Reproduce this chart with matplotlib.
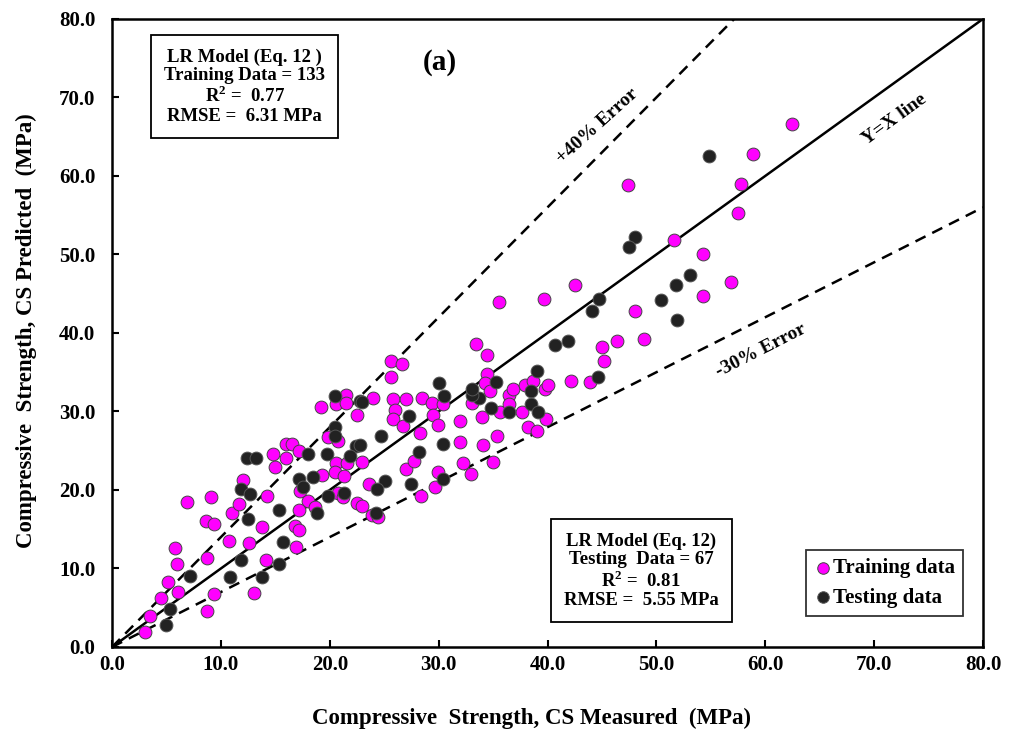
"""Measured vs predicted compressive strength, LR model (panel a)."""
import numpy as np
import matplotlib
matplotlib.use("Agg")
import matplotlib.pyplot as plt

plt.rcParams.update({"font.family": ["Liberation Serif", "DejaVu Serif"],
                     "font.weight": "bold", "mathtext.fontset": "custom",
                     "mathtext.rm": "Liberation Serif", "mathtext.bf": "Liberation Serif:bold"})

# training data (measured, predicted), MPa
train_meas = [3.0, 3.5, 4.5, 6.1, 5.1, 6.0, 5.8, 8.7, 9.4, 8.7, 6.9, 9.1, 8.6, 9.4, 10.7,
              13.0, 12.6, 14.1, 13.8, 11.0, 11.7, 12.0, 14.2, 14.8, 15.0, 16.0, 16.5, 16.0,
              17.2, 17.3, 18.0, 17.2, 16.8, 17.2, 16.9, 19.2, 19.8, 19.3, 18.6,
              33.4, 34.4, 25.6, 26.6, 25.6, 34.4, 34.3, 34.7, 20.6, 21.5, 21.5, 22.5, 24.0,
              25.8, 27.0, 26.0, 25.8, 26.7, 28.5, 29.4, 30.4, 29.5, 29.9, 32.0, 33.1, 34.0,
              35.6, 36.5, 36.8, 36.5, 37.9, 38.7, 37.7, 39.8, 40.0, 39.9, 38.2, 39.0, 42.2,
              28.3, 32.0, 34.1, 35.4, 32.2, 33.0, 35.0, 29.9, 29.7, 28.4, 27.0, 27.7, 23.6,
              23.0, 22.5, 23.0, 23.9, 24.4, 20.6, 20.5, 21.3, 21.6, 20.8, 21.2, 20.8,
              51.6, 54.3, 56.9, 54.3, 48.0, 42.5, 39.7, 35.5, 45.0, 46.4, 48.9,
              62.5, 58.9, 57.8, 57.5, 47.4, 45.2, 43.9]
train_pred = [1.9, 4.0, 6.2, 7.0, 8.3, 10.6, 12.6, 4.6, 6.7, 11.3, 18.5, 19.1, 16.1, 15.7, 13.5,
              6.9, 13.2, 11.1, 15.3, 17.1, 18.2, 21.3, 19.2, 24.6, 22.9, 25.9, 25.9, 24.1,
              25.0, 19.9, 18.6, 17.4, 15.4, 14.9, 12.7, 30.6, 26.7, 21.9, 17.8,
              38.6, 37.2, 36.4, 36.0, 34.4, 34.8, 33.6, 32.6, 31.0, 32.1, 31.1, 29.6, 31.7,
              31.6, 31.6, 30.2, 29.0, 28.2, 31.7, 31.1, 31.0, 29.6, 28.3, 28.8, 31.1, 29.3,
              29.9, 32.1, 32.9, 31.0, 33.4, 33.9, 29.9, 32.9, 33.4, 29.0, 28.0, 27.5, 33.9,
              27.3, 26.1, 25.7, 26.9, 23.4, 22.0, 23.6, 22.3, 20.4, 19.2, 22.7, 23.7, 20.8,
              23.6, 18.3, 18.0, 16.8, 16.6, 23.4, 22.3, 21.8, 23.4, 19.6, 19.1, 26.2,
              51.8, 50.1, 46.5, 44.7, 42.8, 46.1, 44.3, 43.9, 38.2, 39.0, 39.2,
              66.6, 62.8, 59.0, 55.3, 58.8, 36.4, 33.8]

# testing data (measured, predicted), MPa
test_meas = [5.0, 5.3, 7.2, 10.8, 11.8, 13.8, 15.3, 15.7, 15.3, 12.5, 11.8, 12.7, 12.4, 13.2,
             18.0, 17.2, 17.5, 18.5, 18.8, 19.8, 19.7,
             40.7, 41.9, 39.0, 38.5, 38.5, 39.1, 36.5, 34.8, 35.3, 33.7, 33.1, 33.1, 30.0, 30.5,
             27.3, 24.7, 30.4, 28.2, 30.4, 27.5, 25.1, 24.3, 24.2, 20.5, 20.5, 20.5, 22.8, 23.0,
             22.4, 22.8, 21.9, 21.3,
             48.0, 47.5, 53.1, 51.8, 50.4, 51.9, 44.7, 44.1, 54.8, 44.6]
test_pred = [2.8, 4.9, 9.0, 8.9, 11.1, 8.9, 10.6, 13.4, 17.5, 16.3, 20.1, 19.5, 24.1, 24.1,
             24.6, 21.4, 20.4, 21.6, 17.1, 19.2, 24.6,
             38.5, 39.0, 35.2, 32.6, 31.0, 29.9, 29.9, 30.4, 33.8, 31.7, 32.1, 32.9, 33.6, 32.0,
             29.4, 26.9, 25.9, 24.8, 21.4, 20.8, 21.2, 20.1, 17.1, 32.0, 28.0, 26.9, 31.3, 31.2,
             25.6, 25.7, 24.3, 19.6,
             52.2, 51.0, 47.4, 46.1, 44.2, 41.7, 44.3, 42.8, 62.5, 34.4]

line_x = [0, 80]

fig = plt.figure(figsize=(10.14, 7.29), dpi=100)
ax = fig.add_axes([0.1105, 0.1125, 0.8589, 0.8615])

ax.plot(line_x, line_x, color="black", lw=1.8, zorder=2)
ax.plot(line_x, [v * 1.4 for v in line_x], color="black", lw=1.8, ls=(0, (4.5, 3)), zorder=2)
ax.plot(line_x, [v * 0.7 for v in line_x], color="black", lw=1.8, ls=(0, (4.5, 3)), zorder=2)

ax.scatter(train_meas, train_pred, s=85, color="#ff00ff", edgecolor="#444444", lw=0.7,
           label="Training data", zorder=3)
ax.scatter(test_meas, test_pred, s=85, color="#222222", edgecolor="#555555", lw=0.7,
           label="Testing data", zorder=4)

ax.set_xlim(0, 80); ax.set_ylim(0, 80)
ticks = np.arange(0, 81, 10)
ax.set_xticks(ticks); ax.set_yticks(ticks)
ax.set_xticklabels([f"{t:.1f}" for t in ticks]); ax.set_yticklabels([f"{t:.1f}" for t in ticks])
ax.tick_params(direction="in", length=5, width=1.5, labelsize=15)
ax.tick_params(axis="x", pad=6)
ax.tick_params(axis="y", pad=12)
for s in ax.spines.values():
    s.set_linewidth(1.8)
ax.set_xlabel("Compressive  Strength, CS Measured  (MPa)", fontsize=16.5, fontweight="bold")
ax.xaxis.set_label_coords(0.482, -0.097)
ax.set_ylabel("Compressive  Strength, CS Predicted  (MPa)", fontsize=16.5, fontweight="bold")
ax.yaxis.set_label_coords(-0.086, 0.503)

ax.text(71.9, 67.2, "Y=X line", rotation=36, fontsize=14, ha="center", va="center")
ax.text(44.6, 66.4, "+40% Error", rotation=42, fontsize=14, ha="center", va="center")
ax.text(59.6, 37.8, "-30% Error", rotation=27, fontsize=14, ha="center", va="center")
ax.text(30.1, 74.5, "(a)", fontsize=21, ha="center", va="center")

box = dict(boxstyle="square,pad=0.7", fc="white", ec="black", lw=1.3)
ax.text(12.2, 71.4, "LR Model (Eq. 12 )\nTraining Data = 133\nR$^2$ =  0.77\nRMSE =  6.31 MPa",
        fontsize=13.5, ha="center", va="center", linespacing=1.1, bbox=box, zorder=5)
ax.text(48.6, 9.7, "LR Model (Eq. 12)\nTesting  Data = 67\nR$^2$ =  0.81\nRMSE =  5.55 MPa",
        fontsize=13.5, ha="center", va="center", linespacing=1.1, bbox=box, zorder=5)

leg = ax.legend(loc="upper right", bbox_to_anchor=(0.977, 0.1545), fontsize=15, frameon=True,
                fancybox=False, edgecolor="black", handletextpad=0.0, borderpad=0.4,
                handlelength=0.9, labelspacing=0.45, borderaxespad=0, markerscale=0.9)
leg.get_frame().set_linewidth(1.3)

fig.savefig("out.png", dpi=100)
